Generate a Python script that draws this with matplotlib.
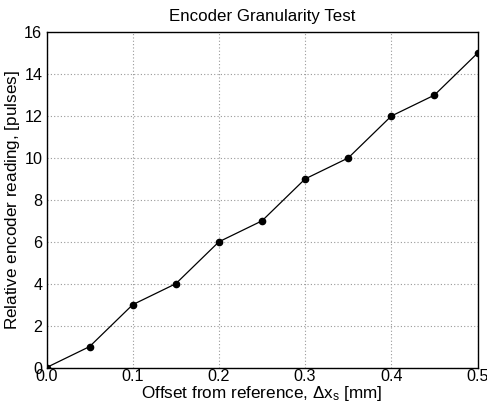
import matplotlib
matplotlib.use("Agg")
import matplotlib.pyplot as plt

offset_mm = [0.0, 0.05, 0.1, 0.15, 0.2, 0.25, 0.3, 0.35, 0.4, 0.45, 0.5]
pulses = [0, 1, 3, 4, 6, 7, 9, 10, 12, 13, 15]
xticks = [0.0, 0.1, 0.2, 0.3, 0.4, 0.5]
yticks = [0, 2, 4, 6, 8, 10, 12, 14, 16]

plt.rcParams['font.family'] = ['Liberation Sans', 'DejaVu Sans']
plt.rcParams['mathtext.fontset'] = 'custom'
plt.rcParams['mathtext.rm'] = 'Liberation Sans'
plt.rcParams['mathtext.it'] = 'Liberation Sans'
plt.rcParams['mathtext.bf'] = 'Liberation Sans:bold'

fig = plt.figure(figsize=(4.87, 4.03), dpi=100)
ax = fig.add_axes([0.0955, 0.088, 0.885, 0.832])
ax.plot(offset_mm, pulses, color='black', linewidth=0.9, marker='o', markersize=4.5)
ax.set_xlim(0, 0.5)
ax.set_ylim(0, 16)
ax.set_xticks(xticks)
ax.set_xticklabels([f"{t:.1f}" for t in xticks])
ax.set_yticks(yticks)
ax.tick_params(axis='both', length=0, labelsize=11.6)
ax.tick_params(axis='x', pad=1)
ax.tick_params(axis='y', pad=3)
ax.grid(True, linestyle=(0, (1, 2)), color='#999999', linewidth=0.8)
for s in ax.spines.values():
    s.set_color('black')
    s.set_linewidth(1.0)
ax.set_title('Encoder Granularity Test', fontsize=12.2, pad=8)
ax.set_xlabel(r'Offset from reference, $\Delta \mathrm{x}_\mathrm{s}$ $[\mathrm{mm}]$', fontsize=12.3, labelpad=0)
ax.set_ylabel(r'Relative encoder reading, $[\mathrm{pulses}]$', fontsize=12.3)
ax.yaxis.set_label_coords(-0.056, 0.5)
fig.savefig('out.png', dpi=100)
